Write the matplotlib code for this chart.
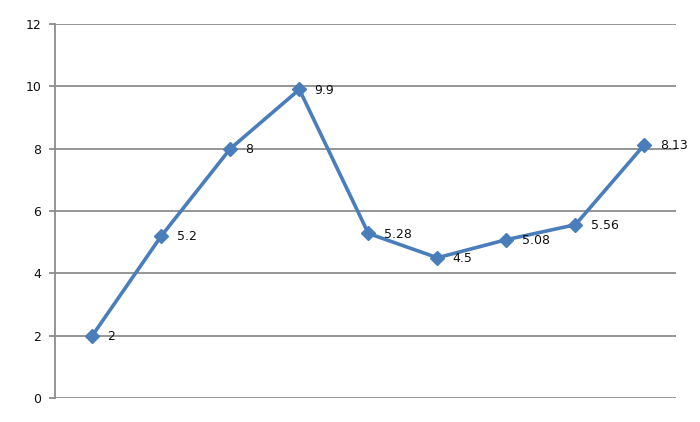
import matplotlib.pyplot as plt

# values
points = [0, 1, 2, 3, 4, 5, 6, 7, 8]
values = [2, 5.2, 8, 9.9, 5.28, 4.5, 5.08, 5.56, 8.13]
labels = ['2', '5.2', '8', '9.9', '5.28', '4.5', '5.08', '5.56', '8.13']
yticks = [0, 2, 4, 6, 8, 10, 12]

fig = plt.figure(figsize=(7, 4.22), dpi=100)
ax = fig.add_axes([0.0786, 0.0569, 0.8874, 0.8862])

ax.set_ylim(0, 12)
ax.set_xlim(-0.54, 8.46)
ax.set_yticks(yticks)
ax.set_xticks([])
ax.grid(axis='y', color='#8c8c8c', linewidth=1.3)
ax.set_axisbelow(True)

for side in ['top', 'right', 'bottom']:
    ax.spines[side].set_visible(False)
ax.spines['left'].set_color('#8c8c8c')
ax.spines['left'].set_linewidth(1.3)
ax.tick_params(axis='y', length=4, width=1.3, color='#8c8c8c', pad=6,
               labelsize=9, labelcolor='#111111')

ax.plot(points, values, color='#4a7ebb', linewidth=2.6, marker='D',
        markersize=7.5, markerfacecolor='#4a7ebb', markeredgecolor='#4a7ebb',
        zorder=3)

# data labels right of each point
for x, y, t in zip(points, values, labels):
    ax.annotate(t, (x, y), xytext=(11, -0.5), textcoords='offset points',
                ha='left', va='center', fontsize=9, color='#111111')

fig.savefig('out.png', dpi=100)
